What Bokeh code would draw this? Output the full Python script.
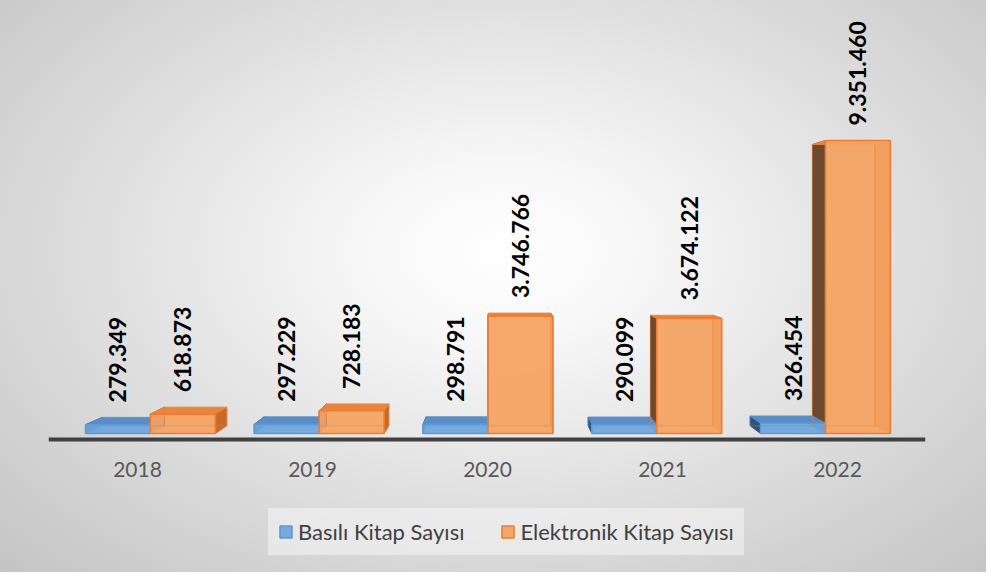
import math
from bokeh.plotting import figure
from bokeh.models import Range1d, FixedTicker, Legend, LegendItem, ColumnDataSource
from bokeh.core.properties import value
from bokeh.embed import file_html
from bokeh.resources import INLINE

# ---------------- data ----------------
years = ["2018", "2019", "2020", "2021", "2022"]
printed = [279349, 297229, 298791, 290099, 326454]
ebook = [618873, 728183, 3746766, 3674122, 9351460]
printed_labels = ["279.349", "297.229", "298.791", "290.099", "326.454"]
ebook_labels = ["618.873", "728.183", "3.746.766", "3.674.122", "9.351.460"]
series_names = ["Basılı Kitap Sayısı", "Elektronik Kitap Sayısı"]

# ---------------- style / 3D projection parameters ----------------
VX, VY = 2.074, 6.16e6      # vanishing point (data units)
DEPTH = 0.04                # bar depth as a fraction toward the vanishing point
PLANE = 1.037               # label plane in front of the bar plane
BAR_W = 0.371
X_START, X_END = -0.5086, 4.5029
Y_START, Y_END = -4436640, 13501436
FLOOR_Y = -191510           # where the category axis line sits

STYLE = {
    "blue": dict(front="#6ea5dd", line="#5b9bd5", top="#5a8dc6", right="#4a7cb3", left="#2f5277"),
    "orange": dict(front="#f5a262", line="#ed7d31", top="#e8853c", right="#c86a27", left="#6b4a2f"),
}

p = figure(frame_width=877, frame_height=562, output_backend="svg", toolbar_location=None,
           x_range=Range1d(X_START, X_END), y_range=Range1d(Y_START, Y_END),
           min_border_left=48, min_border_right=61, min_border_top=10, min_border_bottom=0,
           y_axis_location=None)
p.background_fill_alpha = 0
p.border_fill_alpha = 0
p.outline_line_color = None
p.grid.visible = False
p.styles = {"background": "radial-gradient(ellipse farthest-corner at 51% 44%, #ffffff 0%, #f7f7f7 20%, #dedede 58%, #c4c4c4 100%)"}


def back(x, y):
    return x + DEPTH * (VX - x), y + DEPTH * (VY - y)


centers = [VX + (i - VX) / PLANE for i in range(len(years))]

faces = {"left": ([], [], []), "right": ([], [], []), "top": ([], [], [])}
edges_xs, edges_ys, edges_c = [], [], []
fronts = {}
label_x, label_y, label_t = [], [], []

for key, vals, labels, shift in (("blue", printed, printed_labels, -BAR_W),
                                  ("orange", ebook, ebook_labels, 0.0)):
    st = STYLE[key]
    fx0, fx1, ftop = [], [], []
    for i, v in enumerate(vals):
        x0 = centers[i] + shift
        x1 = x0 + BAR_W
        b00 = back(x0, 0); b10 = back(x1, 0); b11 = back(x1, v); b01 = back(x0, v)
        for name, pts in (("left", [(x0, 0), (x0, v), b01, b00]),
                          ("right", [(x1, 0), (x1, v), b11, b10]),
                          ("top", [(x0, v), (x1, v), b11, b01])):
            faces[name][0].append([q[0] for q in pts])
            faces[name][1].append([q[1] for q in pts])
            faces[name][2].append(st[name])
        edges_xs.append([b01[0], b00[0], b10[0], b11[0]])
        edges_ys.append([b01[1], b00[1], b10[1], b11[1]])
        edges_c.append(st["line"])
        fx0.append(x0); fx1.append(x1); ftop.append(v)
        label_x.append((x0 + x1) / 2)
        label_y.append(max(v, b01[1]))
        label_t.append(labels[i])
    fronts[key] = ColumnDataSource(dict(left=fx0, right=fx1, top=ftop, bottom=[0] * len(fx0)))

for name in ("left", "right", "top"):
    xs, ys, cs = faces[name]
    p.patches(xs=xs, ys=ys, fill_color=cs, line_color=cs, line_width=1, line_alpha=0.9)

renderers = {}
for key in ("blue", "orange"):
    st = STYLE[key]
    renderers[key] = p.quad(left="left", right="right", top="top", bottom="bottom", source=fronts[key],
                            fill_color=st["front"], fill_alpha=0.93, line_color=st["line"], line_width=1.6)

p.multi_line(xs=edges_xs, ys=edges_ys, line_color=edges_c, line_alpha=0.45, line_width=1)

p.text(x=label_x, y=label_y, text=label_t, angle=math.pi / 2, y_offset=-15,
       text_align="left", text_baseline="middle", text_font=value("Lato"),
       text_font_style="bold", text_font_size="23px", text_color="#000000")

ax = p.xaxis[0]
ax.fixed_location = FLOOR_Y
ax.ticker = FixedTicker(ticks=list(range(len(years))))
ax.major_label_overrides = {i: y for i, y in enumerate(years)}
ax.major_tick_line_color = None
ax.minor_tick_line_color = None
ax.axis_line_color = "#404040"
ax.axis_line_width = 4
ax.major_label_standoff = 16
ax.major_label_text_font = "Lato"
ax.major_label_text_font_size = "21px"
ax.major_label_text_color = "#595959"

legend = Legend(items=[LegendItem(label=series_names[0], renderers=[renderers["blue"]]),
                       LegendItem(label=series_names[1], renderers=[renderers["orange"]])],
                orientation="horizontal", location=(220, 17))
legend.glyph_width = 15
legend.glyph_height = 15
legend.label_standoff = 5
legend.spacing = 36
legend.padding = 10
legend.margin = 0
legend.label_text_font = "Lato"
legend.label_text_font_size = "22px"
legend.label_text_color = "#404040"
legend.background_fill_color = "#f4f4f4"
legend.background_fill_alpha = 0.6
legend.border_line_alpha = 0
p.add_layout(legend)

open("out.html", "w").write(file_html(p, INLINE))
